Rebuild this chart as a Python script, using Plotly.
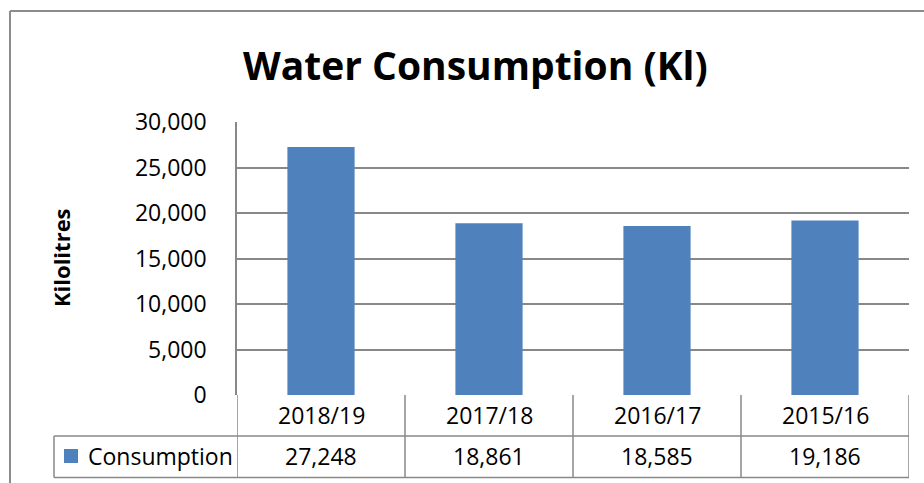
import plotly.graph_objects as go

categories = ["2018/19", "2017/18", "2016/17", "2015/16"]
consumption = [27248, 18861, 18585, 19186]
consumption_labels = ["27,248", "18,861", "18,585", "19,186"]
y_ticks = [0, 5000, 10000, 15000, 20000, 25000, 30000]
y_tick_labels = ["0", "5,000", "10,000", "15,000", "20,000", "25,000", "30,000"]
series_name = "Consumption"
title_text = "Water Consumption (Kl)"
y_title = "Kilolitres"

W, H = 924, 483
L, R, T, B = 237, 15, 122, 88
PW, PH = W - L - R, H - T - B

def px_x(px):
    return (px - L) / PW

def px_y(py):
    return (H - B - py) / PH

FONT = "Open Sans"
GRID = "#888888"
BAR = "#4F81BD"
FS = 23

fig = go.Figure()
fig.add_trace(go.Bar(
    x=list(range(len(categories))), y=consumption, name=series_name,
    marker=dict(color=BAR, line=dict(width=0)), width=0.4,
    hoverinfo="skip",
))

shapes = []
annotations = []

# table vertical lines at category boundaries
for i in range(len(categories) + 1):
    shapes.append(dict(type="line", xref="x", yref="paper",
                       x0=i - 0.5, x1=i - 0.5, y0=0, y1=px_y(477.5),
                       line=dict(color=GRID, width=1.5)))
# table horizontal lines
shapes.append(dict(type="line", xref="paper", yref="paper",
                   x0=px_x(54), x1=1, y0=px_y(436), y1=px_y(436),
                   line=dict(color=GRID, width=1.5)))
shapes.append(dict(type="line", xref="paper", yref="paper",
                   x0=px_x(54), x1=1, y0=px_y(477.5), y1=px_y(477.5),
                   line=dict(color=GRID, width=1.5)))
shapes.append(dict(type="line", xref="paper", yref="paper",
                   x0=px_x(54), x1=px_x(54), y0=px_y(436), y1=px_y(477.5),
                   line=dict(color=GRID, width=1.5)))
# legend key square
shapes.append(dict(type="rect", xref="paper", yref="paper",
                   x0=px_x(64), x1=px_x(78), y0=px_y(449), y1=px_y(463),
                   fillcolor=BAR, line=dict(width=0)))
# outer chart border
shapes.append(dict(type="line", xref="paper", yref="paper",
                   x0=px_x(10), x1=px_x(930), y0=px_y(11), y1=px_y(11),
                   line=dict(color="#8c8c8c", width=2)))
shapes.append(dict(type="line", xref="paper", yref="paper",
                   x0=px_x(10), x1=px_x(10), y0=px_y(11), y1=px_y(490),
                   line=dict(color="#8c8c8c", width=2)))

# table text
for i, (c, v) in enumerate(zip(categories, consumption_labels)):
    annotations.append(dict(x=i, y=px_y(415), xref="x", yref="paper", text=c,
                            showarrow=False, xanchor="center", yanchor="middle",
                            font=dict(family=FONT, size=FS, color="black")))
    annotations.append(dict(x=i, y=px_y(456), xref="x", yref="paper", text=v,
                            showarrow=False, xanchor="center", yanchor="middle",
                            font=dict(family=FONT, size=FS, color="black")))
annotations.append(dict(x=px_x(86), y=px_y(456), xref="paper", yref="paper",
                        text=series_name, showarrow=False, xanchor="left",
                        yanchor="middle",
                        font=dict(family=FONT, size=FS, color="black")))
# title
annotations.append(dict(x=px_x(475), y=px_y(64), xref="paper", yref="paper",
                        text="<b>" + title_text + "</b>", showarrow=False,
                        xanchor="center", yanchor="middle",
                        font=dict(family=FONT, size=39, color="black")))
# y-axis title
annotations.append(dict(x=px_x(61), y=px_y(258), xref="paper", yref="paper",
                        text="<b>" + y_title + "</b>", showarrow=False,
                        textangle=-90, xanchor="center", yanchor="middle",
                        font=dict(family=FONT, size=22, color="black")))

fig.update_layout(
    width=W, height=H,
    margin=dict(l=L, r=R, t=T, b=B, pad=0),
    paper_bgcolor="white", plot_bgcolor="white",
    showlegend=False,
    shapes=shapes, annotations=annotations,
    bargap=0.6,
)
fig.update_xaxes(range=[-0.5, len(categories) - 0.5], showticklabels=False,
                 showgrid=False, zeroline=False, showline=False, ticks="")
fig.update_yaxes(range=[0, 30000], tickvals=y_ticks, ticktext=y_tick_labels,
                 showgrid=True, gridcolor=GRID, gridwidth=1.5,
                 zeroline=False, showline=True, linecolor=GRID, linewidth=1.5,
                 ticks="", ticklabelstandoff=24,
                 tickfont=dict(family=FONT, size=FS, color="black"))

fig.write_html("out.html", config={"displayModeBar": False},
               post_script="document.body.style.margin='0';document.body.style.overflow='hidden';")
